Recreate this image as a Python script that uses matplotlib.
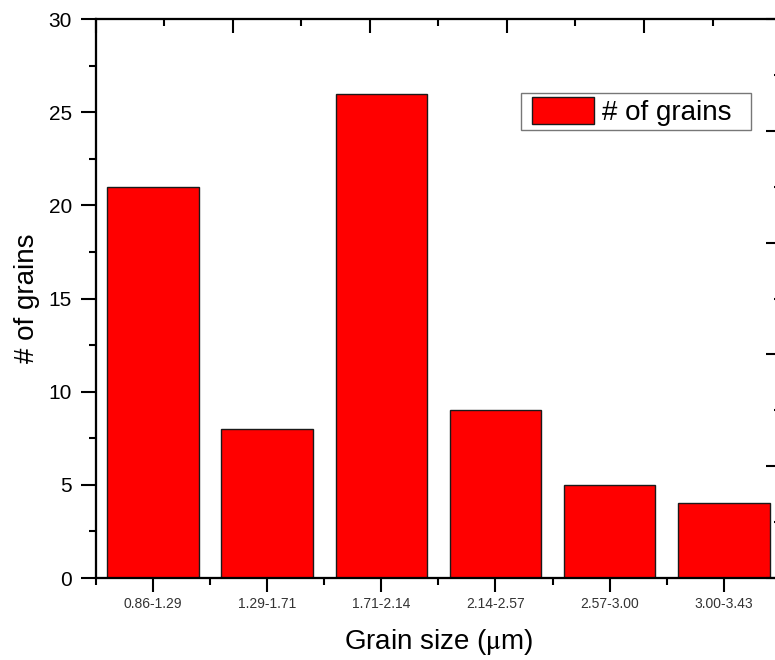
import numpy as np
import matplotlib
matplotlib.use("Agg")
import matplotlib.pyplot as plt
from matplotlib.ticker import MultipleLocator, FixedLocator
from matplotlib.container import BarContainer
from matplotlib.legend_handler import HandlerPatch, update_from_first_child

plt.rcParams['font.family'] = ['Liberation Sans', 'DejaVu Sans']
plt.rcParams['mathtext.fontset'] = 'stix'

# grain size histogram
bins = ['0.86-1.29', '1.29-1.71', '1.71-2.14', '2.14-2.57', '2.57-3.00', '3.00-3.43']
counts = [21, 8, 26, 9, 5, 4]

fig = plt.figure(figsize=(7.75, 6.6), dpi=100)
ax = fig.add_axes([0.1235, 0.1242, 0.8843, 0.847])

x = np.arange(len(bins))
bars = ax.bar(x, counts, width=0.8, color='#ff0000', edgecolor='#1a1a1a', linewidth=1.0,
              label='# of grains', zorder=2)

ax.set_xlim(-0.5, len(bins) - 0.5)
ax.set_ylim(0, 30)
ax.set_xticks(x)
ax.set_xticklabels(bins, fontsize=10, color='#333333')
ax.xaxis.set_minor_locator(FixedLocator(np.arange(-0.5, len(bins), 1.0)))
ax.yaxis.set_major_locator(MultipleLocator(5))
ax.yaxis.set_minor_locator(MultipleLocator(2.5))
ax.tick_params(axis='y', which='major', labelsize=15, length=11, width=1.5, pad=6, direction='out')
ax.tick_params(axis='x', which='major', length=10, width=1.5, pad=4, direction='out')
ax.tick_params(which='minor', length=5, width=1.5, direction='out')
for s in ax.spines.values():
    s.set_linewidth(1.5)

ax.set_xlabel(r'Grain size ($\mathrm{\mu}$m)', fontsize=20, labelpad=11)
ax.set_ylabel('# of grains', fontsize=20, labelpad=6)

# unlabeled frame ticks on top and right
top = ax.twiny()
top.set_xlim(0, 100)
top.xaxis.set_major_locator(MultipleLocator(20))
top.xaxis.set_minor_locator(MultipleLocator(10))
top.tick_params(axis='x', which='major', direction='in', length=10, width=1.5, labeltop=False)
top.tick_params(axis='x', which='minor', direction='in', length=5, width=1.5)

right = ax.twinx()
right.set_ylim(0, 100)
right.yaxis.set_major_locator(MultipleLocator(20))
right.yaxis.set_minor_locator(MultipleLocator(10))
right.tick_params(axis='y', which='major', direction='in', length=11, width=1.5, labelright=False)
right.tick_params(axis='y', which='minor', direction='in', length=5, width=1.5)
for a in (top, right):
    for s in a.spines.values():
        s.set_linewidth(1.5)

# legend box: swatch inset from the frame, extra room after the label
leg = right.legend([bars], ['# of grains'], loc='upper left',
                   bbox_to_anchor=(521 / 775, 1 - 93 / 660, 230 / 775, 0),
                   bbox_transform=fig.transFigure, mode='expand', fontsize=20,
                   frameon=True, fancybox=False, framealpha=1, edgecolor='#777777',
                   handlelength=2.47, handleheight=1.1, handletextpad=0.3,
                   borderpad=0.15, borderaxespad=0,
                   handler_map={BarContainer: HandlerPatch(xpad=0.25,
                                                           update_func=update_from_first_child)})
leg.get_frame().set_linewidth(1.0)

fig.savefig('out.png', dpi=100)
